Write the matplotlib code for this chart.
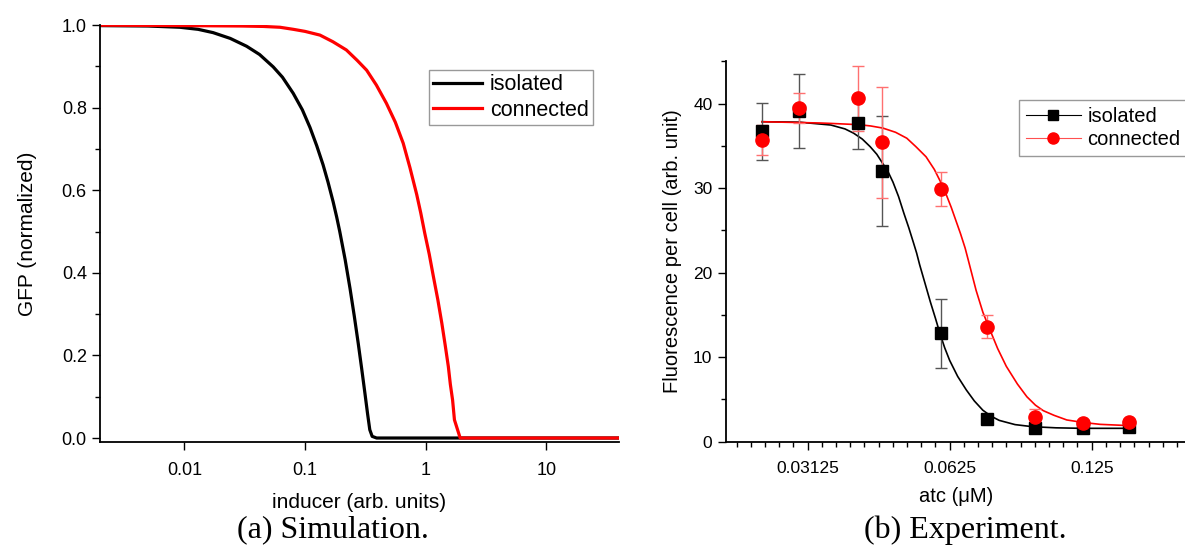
import numpy as np
import matplotlib
matplotlib.use("Agg")
import matplotlib.pyplot as plt
from matplotlib.ticker import FixedLocator, NullFormatter, NullLocator

plt.rcParams["font.family"] = ["Liberation Sans", "DejaVu Sans"]

# ── (a) simulation curves ────────────────────────────────────────────────────
sim_iso_x = [0.002, 0.005, 0.00918, 0.013, 0.0173, 0.024, 0.0328, 0.042, 0.0545,
             0.065, 0.0798, 0.095, 0.110, 0.125, 0.141, 0.155, 0.171, 0.183,
             0.194, 0.215, 0.236, 0.256, 0.276, 0.295, 0.313, 0.33, 0.344,
             0.36, 0.392, 40]
sim_iso_y = [0.999, 0.998, 0.995, 0.990, 0.982, 0.968, 0.949, 0.929, 0.899,
             0.874, 0.835, 0.795, 0.752, 0.708, 0.662, 0.620, 0.572, 0.535,
             0.500, 0.432, 0.362, 0.295, 0.229, 0.167, 0.110, 0.058, 0.020,
             0.004, 0.0, 0.0]
sim_con_x = [0.002, 0.01, 0.03, 0.045, 0.062, 0.08, 0.1, 0.133, 0.17, 0.22,
             0.27, 0.324, 0.39, 0.472, 0.56, 0.651, 0.74, 0.842, 0.91, 0.982,
             1.07, 1.158, 1.26, 1.36, 1.45, 1.54, 1.6, 1.67, 1.73, 1.93, 40]
sim_con_y = [1.0, 0.999, 0.998, 0.997, 0.995, 0.990, 0.985, 0.976, 0.960, 0.940,
             0.915, 0.891, 0.855, 0.811, 0.765, 0.714, 0.655, 0.590, 0.545, 0.496,
             0.445, 0.391, 0.335, 0.278, 0.225, 0.173, 0.130, 0.092, 0.044, 0.0, 0.0]

# ── (b) experiment: measurements + fitted curves ─────────────────────────────
atc = [0.025, 0.03, 0.04, 0.045, 0.06, 0.075, 0.095, 0.12, 0.15]
iso_mean = [36.7, 39.1, 37.7, 32.0, 12.8, 2.7, 1.6, 1.6, 1.7]
iso_err = [3.35, 4.35, 3.05, 6.55, 4.1, 0.3, 0.3, 0.3, 0.3]
con_mean = [35.7, 39.5, 40.6, 35.4, 29.9, 13.6, 2.9, 2.2, 2.3]
con_err = [1.8, 1.8, 3.8, 6.55, 2.0, 1.35, 0.9, 0.3, 0.3]

fit_iso_x = [0.025, 0.030, 0.035, 0.0375, 0.0391, 0.0408, 0.0424, 0.0438, 0.0451,
             0.0463, 0.0474, 0.0487, 0.0500, 0.0512, 0.0524, 0.0532, 0.0540,
             0.0555, 0.0569, 0.0583, 0.0596, 0.061, 0.0625, 0.065, 0.0678,
             0.0705, 0.0735, 0.0765, 0.0796, 0.086, 0.0937, 0.105, 0.119, 0.15]
fit_iso_y = [37.85, 37.8, 37.46, 37.0, 36.5, 35.8, 34.9, 34.0, 32.9,
             31.9, 30.7, 29.0, 27.0, 25.3, 23.5, 22.3, 20.9,
             18.6, 16.5, 14.6, 12.8, 11.1, 9.6, 7.7, 6.1,
             4.8, 3.7, 3.0, 2.5, 2.0, 1.75, 1.62, 1.56, 1.56]
fit_con_x = [0.025, 0.0332, 0.035, 0.0402, 0.0425, 0.0451, 0.048, 0.0507, 0.053,
             0.0557, 0.058, 0.0607, 0.063, 0.0659, 0.0674, 0.0685, 0.0711, 0.0735,
             0.0761, 0.079, 0.0824, 0.087, 0.0911, 0.095, 0.0987, 0.104, 0.1107,
             0.12, 0.1303, 0.15]
fit_con_y = [37.85, 37.7, 37.65, 37.5, 37.35, 37.1, 36.6, 35.9, 34.9,
             33.7, 32.2, 30.0, 27.7, 24.6, 22.9, 21.4, 17.9, 15.3,
             13.2, 11.0, 8.9, 6.8, 5.3, 4.3, 3.65, 3.1, 2.55,
             2.25, 2.03, 1.88]

fig = plt.figure(figsize=(11.85, 5.49), dpi=100)

# ── panel (a) ────────────────────────────────────────────────────────────────
ax1 = fig.add_axes([0.0844, 0.1945, 0.4380, 0.7596])
ax1.plot(sim_iso_x, sim_iso_y, color="black", lw=2.3, label="isolated")
ax1.plot(sim_con_x, sim_con_y, color="red", lw=2.3, label="connected")
ax1.set_xscale("log")
ax1.set_xlim(0.002, 40)
ax1.set_ylim(-0.0102, 1.0)
ax1.xaxis.set_major_locator(FixedLocator([0.01, 0.1, 1, 10]))
ax1.set_xticklabels(["0.01", "0.1", "1", "10"])
ax1.xaxis.set_minor_locator(NullLocator())
ax1.set_yticks([0.0, 0.2, 0.4, 0.6, 0.8, 1.0])
ax1.set_yticklabels(["0.0", "0.2", "0.4", "0.6", "0.8", "1.0"])
ax1.yaxis.set_minor_locator(FixedLocator([0.1, 0.3, 0.5, 0.7, 0.9]))
ax1.tick_params(which="major", length=6, width=1, labelsize=13)
ax1.tick_params(which="minor", length=3.5, width=1)
ax1.tick_params(axis="x", pad=8)
for s in ["top", "right"]:
    ax1.spines[s].set_visible(False)
for s in ["left", "bottom"]:
    ax1.spines[s].set_linewidth(1.3)
ax1.set_xlabel("inducer (arb. units)", fontsize=15, labelpad=10)
ax1.set_ylabel("GFP (normalized)", fontsize=15, labelpad=18)
leg1 = ax1.legend(loc="upper left", bbox_to_anchor=(0.3617, 0.8725),
                  bbox_transform=fig.transFigure, fontsize=15.5, frameon=True,
                  fancybox=False, edgecolor="#808080", handlelength=2.3,
                  handletextpad=0.35, borderaxespad=0, borderpad=0.2,
                  labelspacing=0.2)
leg1.get_frame().set_linewidth(1.0)

# ── panel (b) ────────────────────────────────────────────────────────────────
ax2 = fig.add_axes([0.6123, 0.1958, 0.3885, 0.6925])
ax2.plot(fit_iso_x, fit_iso_y, color="black", lw=1.2, zorder=2)
ax2.plot(fit_con_x, fit_con_y, color="red", lw=1.2, zorder=2)
ax2.errorbar(atc, iso_mean, yerr=iso_err, fmt="none", ecolor="#555555",
             elinewidth=1, capsize=4, capthick=1, zorder=3)
ax2.errorbar(atc, con_mean, yerr=con_err, fmt="none", ecolor="#ff7070",
             elinewidth=1, capsize=4, capthick=1, zorder=3)
ax2.plot(atc, iso_mean, ls="none", marker="s", ms=8, color="black", zorder=4)
ax2.plot(atc, con_mean, ls="none", marker="o", ms=9.5, color="red", zorder=5)

ax2.set_xscale("log", base=2)
ax2.set_xlim(0.02094, 0.198)
ax2.set_ylim(0, 45)
ax2.xaxis.set_major_locator(FixedLocator([0.03125, 0.0625, 0.125]))
ax2.set_xticklabels(["0.03125", "0.0625", "0.125"])
minor_x = [0.015625 * 2 ** (k / 10) for k in range(0, 45) if k % 10]
ax2.xaxis.set_minor_locator(FixedLocator(minor_x))
ax2.xaxis.set_minor_formatter(NullFormatter())
ax2.set_yticks([0, 10, 20, 30, 40])
ax2.yaxis.set_minor_locator(FixedLocator([5, 15, 25, 35, 45]))
ax2.tick_params(which="major", length=6, width=1, labelsize=12.5)
ax2.tick_params(which="minor", length=3.5, width=1)
ax2.tick_params(axis="x", pad=8)
for s in ["top", "right"]:
    ax2.spines[s].set_visible(False)
for s in ["left", "bottom"]:
    ax2.spines[s].set_linewidth(1.3)
ax2.set_xlabel("atc (\u03bcM)", fontsize=14.5, labelpad=8)
ax2.set_ylabel("Fluorescence per cell (arb. unit)", fontsize=14.5, labelpad=8)

h_iso = plt.Line2D([], [], color="black", lw=0.8, marker="s", ms=7)
h_con = plt.Line2D([], [], color="#ff5050", lw=0.8, marker="o", mfc="red",
                   mec="red", ms=8)
leg2 = ax2.legend([h_iso, h_con], ["isolated", "connected"], loc="upper left",
                  bbox_to_anchor=(0.86, 0.818), bbox_transform=fig.transFigure,
                  fontsize=14.5, frameon=True, fancybox=False, edgecolor="#808080",
                  handlelength=2.7, handletextpad=0.35, borderaxespad=0,
                  borderpad=0.35, labelspacing=0.2)
leg2.get_frame().set_linewidth(1.0)

# captions
fig.text(0.281, 0.035, "(a) Simulation.", ha="center", va="center",
         fontsize=23, family=["Liberation Serif", "DejaVu Serif"])
fig.text(0.815, 0.035, "(b) Experiment.", ha="center", va="center",
         fontsize=23, family=["Liberation Serif", "DejaVu Serif"])

fig.savefig("out.png", dpi=100)
